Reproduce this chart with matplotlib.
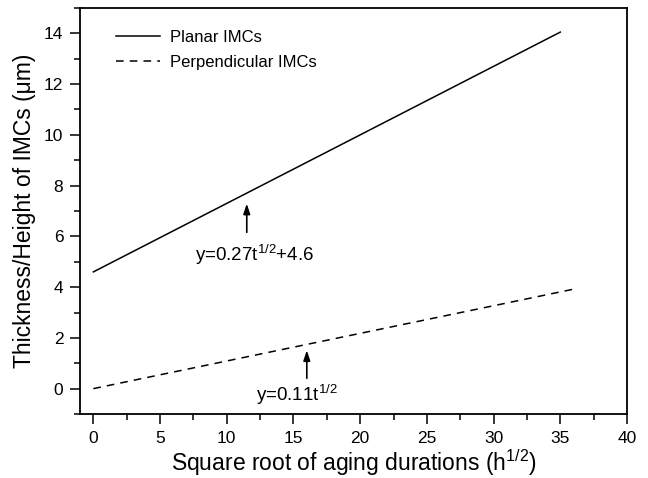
import matplotlib
matplotlib.use("Agg")
import matplotlib.pyplot as plt
from matplotlib.ticker import MultipleLocator

plt.rcParams['font.family'] = ['Liberation Sans', 'DejaVu Sans']
plt.rcParams['mathtext.fontset'] = 'custom'
plt.rcParams['mathtext.rm'] = 'Liberation Sans'
plt.rcParams['mathtext.it'] = 'Liberation Sans'

# fitted lines (end points)
planar_x = [0, 35]
planar_y = [4.6, 14.05]
perp_x = [0, 36]
perp_y = [0.0, 3.92]

fig = plt.figure(figsize=(6.48, 4.78), dpi=100)
ax = fig.add_axes([80 / 648, 64 / 478, 547 / 648, 406 / 478])

ax.plot(planar_x, planar_y, color="black", lw=1.1, label="Planar IMCs")
ax.plot(perp_x, perp_y, color="black", lw=1.1, ls=(0, (5, 4)), label="Perpendicular IMCs")

ax.annotate("", xy=(11.5, 7.4), xytext=(11.5, 6.05),
            arrowprops=dict(arrowstyle="-|>,head_length=0.6,head_width=0.2",
                            color="black", lw=1.2, mutation_scale=10))
ax.text(7.6, 5.25, "y=0.27t$^{1/2}$+4.6", fontsize=13.5, va="center")
ax.annotate("", xy=(16.0, 1.62), xytext=(16.0, 0.3),
            arrowprops=dict(arrowstyle="-|>,head_length=0.6,head_width=0.2",
                            color="black", lw=1.2, mutation_scale=10))
ax.text(12.2, -0.25, "y=0.11t$^{1/2}$", fontsize=13.5, va="center")

ax.set_xlim(-1, 40)
ax.set_ylim(-1, 15)
ax.xaxis.set_major_locator(MultipleLocator(5))
ax.xaxis.set_minor_locator(MultipleLocator(2.5))
ax.yaxis.set_major_locator(MultipleLocator(2))
ax.yaxis.set_minor_locator(MultipleLocator(1))
ax.tick_params(which="major", direction="out", length=7, width=1.1, labelsize=12.5, pad=5)
ax.tick_params(which="minor", direction="out", length=4, width=1.1)
for s in ax.spines.values():
    s.set_linewidth(1.3)

ax.set_xlabel("Square root of aging durations (h$^{1/2}$)", fontsize=16.5, labelpad=1)
ax.set_ylabel("Thickness/Height of IMCs (\u03bcm)", fontsize=16.5, labelpad=6)

ax.legend(loc="upper left", frameon=False, fontsize=12, handlelength=2.6,
          handletextpad=0.6, borderaxespad=0.3, labelspacing=0.6,
          bbox_to_anchor=(0.045, 0.975))

fig.savefig("out.png", dpi=100)
